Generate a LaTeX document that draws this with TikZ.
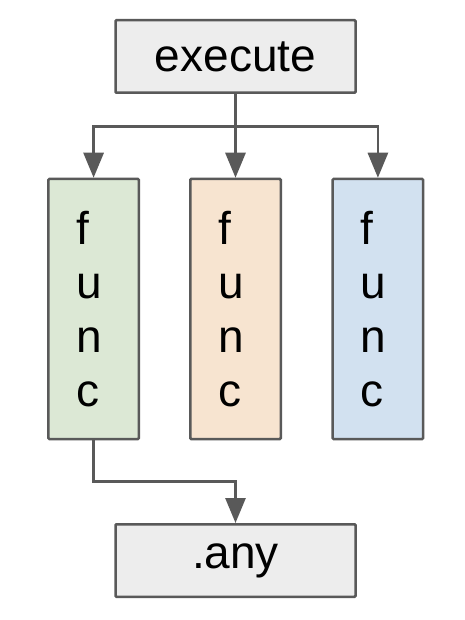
\documentclass[tikz,border=0pt]{standalone}
\usepackage{fontspec}
\setmainfont{Liberation Sans}
\usetikzlibrary{arrows.meta}
\definecolor{edge}{HTML}{595959}
\definecolor{greyfill}{HTML}{EDEDED}
\definecolor{greenfill}{HTML}{DCE8D5}
\definecolor{orangefill}{HTML}{F7E4D0}
\definecolor{bluefill}{HTML}{D2E1F0}
\tikzset{
  base/.style={draw=edge, line width=2.5pt, rounded corners=1pt, inner sep=0pt},
  widebox/.style={base, fill=greyfill, minimum width=240pt, minimum height=72.5pt,
    font=\fontsize{46}{54}\selectfont},
  funcbox/.style={base, minimum width=90.5pt, minimum height=260pt,
    text width=35pt, align=left, font=\fontsize{46}{54}\selectfont},
  conn/.style={draw=edge, line width=2.8pt},
  arr/.style={conn, -{Triangle[width=20pt,length=25pt]}},
}
\begin{document}
\begin{tikzpicture}[x=1pt,y=-1pt]
\useasboundingbox (0,0) rectangle (464,620);
\node[widebox] (exec) at (235.5,56.5) {execute};
\node[funcbox, fill=greenfill] (f1) at (93.6,309) {f\\u\\n\\c};
\node[funcbox, fill=orangefill] (f2) at (235.5,309) {f\\u\\n\\c};
\node[funcbox, fill=bluefill] (f3) at (377.9,309) {f\\u\\n\\c};
\node[widebox] (any) at (235.5,560.5) {.any};
\coordinate (bus) at (235.5,126.7);
\coordinate (mid) at (93.6,481.7);
\draw[conn] (exec.south) -- (bus);
\draw[arr] (bus) -| (f1.north);
\draw[arr] (bus) -- (f2.north);
\draw[arr] (bus) -| (f3.north);
\draw[arr] (f1.south) -- (mid) -| (any.north);
\end{tikzpicture}
\end{document}
